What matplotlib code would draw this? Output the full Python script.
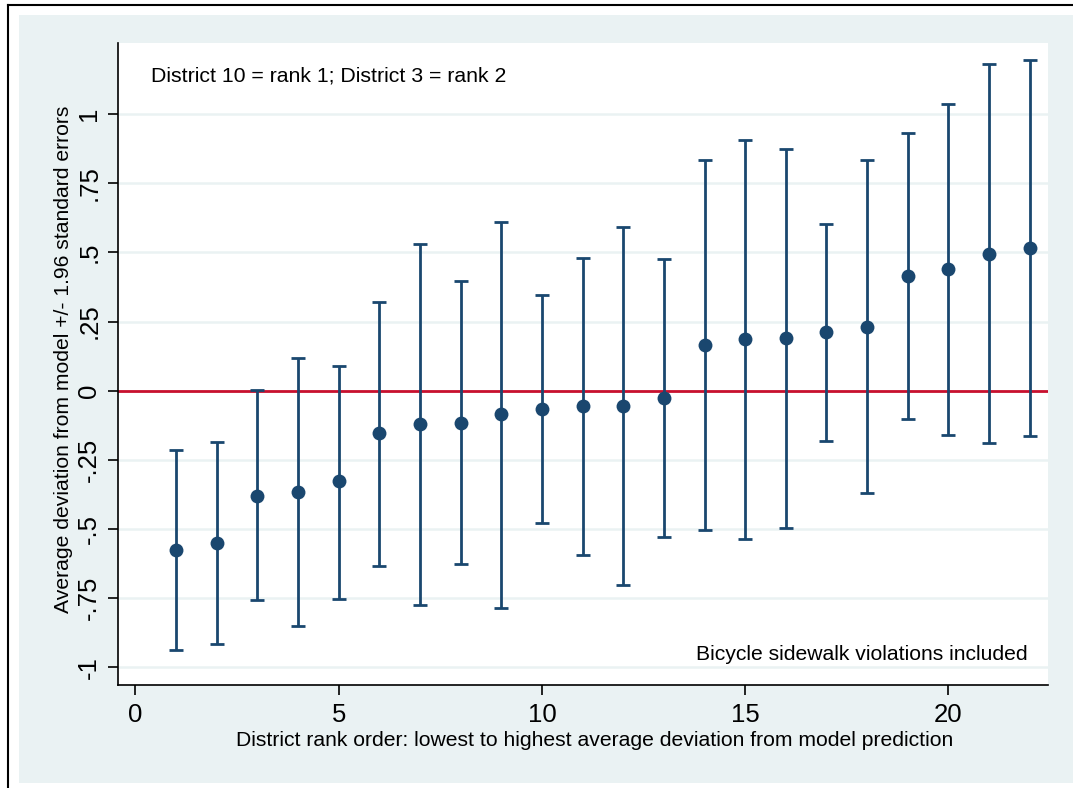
import matplotlib
matplotlib.use("Agg")
import matplotlib.pyplot as plt
from matplotlib.lines import Line2D
from matplotlib.patches import Rectangle

# District rank order (1 = lowest average deviation)
rank = list(range(1, 23))

# Average deviation from model prediction
mean_dev = [-0.575, -0.549, -0.379, -0.367, -0.328, -0.154, -0.119, -0.115,
            -0.085, -0.065, -0.056, -0.056, -0.026, 0.165, 0.186, 0.190,
            0.213, 0.231, 0.414, 0.439, 0.494, 0.516]

# +/- 1.96 standard error bounds
upper = [-0.214, -0.186, 0.001, 0.118, 0.090, 0.322, 0.529, 0.395,
         0.610, 0.345, 0.481, 0.592, 0.476, 0.833, 0.905, 0.875,
         0.602, 0.834, 0.931, 1.037, 1.180, 1.195]
lower = [-0.938, -0.915, -0.756, -0.849, -0.753, -0.632, -0.776, -0.628,
         -0.785, -0.477, -0.593, -0.703, -0.530, -0.505, -0.537, -0.495,
         -0.182, -0.370, -0.103, -0.160, -0.189, -0.165]

x_ticks = [0, 5, 10, 15, 20]
y_ticks = [-1, -0.75, -0.5, -0.25, 0, 0.25, 0.5, 0.75, 1]
y_tick_labels = ["-1", "-.75", "-.5", "-.25", "0", ".25", ".5", ".75", "1"]

note_top = "District 10 = rank 1; District 3 = rank 2"
note_bottom = "Bicycle sidewalk violations included"
x_title = "District rank order: lowest to highest average deviation from model prediction"
y_title = "Average deviation from model +/- 1.96 standard errors"

NAVY = "#1a476f"
PANEL = "#eaf2f3"
RED = "#c8102e"

plt.rcParams["font.family"] = ["Liberation Sans", "DejaVu Sans"]

W, H = 1073, 788
fig = plt.figure(figsize=(W / 100, H / 100), dpi=100)
fig.patch.set_facecolor("white")


def fx(px):
    return px / W


def fy(py):
    return 1 - py / H


# outer frame and shaded graph region
fig.add_artist(Line2D([fx(8), fx(8)], [fy(5), fy(H + 5)], color="black", lw=1.5))
fig.add_artist(Line2D([fx(8), fx(W + 5)], [fy(5), fy(5)], color="black", lw=1.5))
fig.add_artist(Rectangle((fx(19), fy(783)), fx(W) - fx(19), fy(15) - fy(783),
                         facecolor=PANEL, edgecolor="none", zorder=0))

left, right, top, bottom = 118, 1048, 43, 685
ax = fig.add_axes([fx(left), fy(bottom), fx(right) - fx(left), fy(top) - fy(bottom)])
ax.set_facecolor("white")

yerr = [[m - lo for m, lo in zip(mean_dev, lower)],
        [hi - m for m, hi in zip(mean_dev, upper)]]
ax.errorbar(rank, mean_dev, yerr=yerr, fmt="none", ecolor=NAVY,
            elinewidth=2.0, capsize=4.8, capthick=2.0, zorder=3)
ax.plot(rank, mean_dev, "o", color=NAVY, markersize=10, zorder=4,
        markeredgewidth=0)
ax.axhline(0, color=RED, lw=2.0, zorder=2)

ax.set_xlim(-0.43, 22.45)
ax.set_ylim(-1.0636, 1.2566)
ax.set_xticks(x_ticks)
ax.set_yticks(y_ticks)
ax.set_yticklabels(y_tick_labels, rotation=90, va="center")
ax.grid(axis="y", color=PANEL, lw=1.8, zorder=1)
ax.grid(axis="x", visible=False)
ax.set_axisbelow(True)

for s in ("top", "right"):
    ax.spines[s].set_visible(False)
for s in ("left", "bottom"):
    ax.spines[s].set_color("black")
    ax.spines[s].set_linewidth(1.2)

ax.tick_params(axis="both", direction="out", length=7, width=1.2,
               color="black", labelsize=18.5, labelcolor="black")
ax.tick_params(axis="y", pad=5)
ax.tick_params(axis="x", pad=6)

ax.text(fx(151), fy(76), note_top, transform=fig.transFigure,
        fontsize=15.3, ha="left", va="center")
ax.text(fx(1028), fy(655), note_bottom, transform=fig.transFigure,
        fontsize=15.2, ha="right", va="center")

fig.text(fx(595), fy(741), x_title, fontsize=15.2, ha="center", va="center")
fig.text(fx(64), fy(359), y_title, fontsize=15.2, ha="center", va="center",
         rotation=90)

fig.savefig("out.png", dpi=100, facecolor=fig.get_facecolor())
